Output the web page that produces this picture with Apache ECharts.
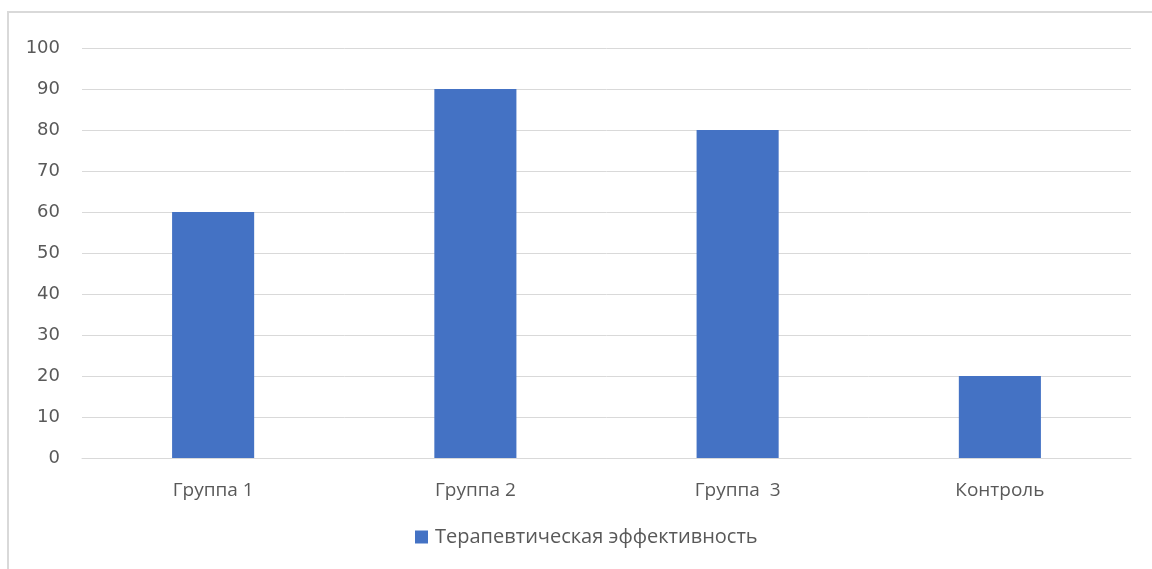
<!DOCTYPE html>
<html>
<head>
<meta charset="utf-8">
<script src="https://cdn.jsdelivr.net/npm/echarts@6/dist/echarts.min.js"></script>
<style>
  html, body { margin: 0; padding: 0; background: #fff; }
  #chart { width: 1152px; height: 569px; }
</style>
</head>
<body>
<div id="chart"></div>
<script>
// Терапевтическая эффективность по группам
const categories = ['Группа 1', 'Группа 2', 'Группа  3', 'Контроль'];
const efficacy = [60, 90, 80, 20];
const seriesName = 'Терапевтическая эффективность';
const yTicks = { min: 0, max: 100, interval: 10 };

const textColor = '#595959';
const fontFamily = 'Open Sans, Liberation Sans, sans-serif';
const numberFont = 'DejaVu Sans, sans-serif';

const chart = echarts.init(document.getElementById('chart'), null, { renderer: 'canvas' });
chart.setOption({
  animation: false,
  backgroundColor: '#fff',
  graphic: [{
    type: 'rect',
    shape: { x: 8, y: 12, width: 1200, height: 620 },
    style: { fill: 'none', stroke: '#d9d9d9', lineWidth: 2 },
    silent: true
  }],
  grid: { left: 82, right: 21, top: 48, bottom: 111, containLabel: false },
  legend: {
    top: 527,
    left: 415,
    padding: 0,
    itemWidth: 13,
    itemHeight: 13,
    icon: 'rect',
    textStyle: { color: textColor, fontSize: 20, fontFamily: fontFamily, padding: [0, 0, 0, 2] },
    data: [seriesName]
  },
  xAxis: {
    type: 'category',
    data: categories,
    axisLine: { show: true, lineStyle: { color: '#d9d9d9', width: 1 } },
    axisTick: { show: false },
    axisLabel: { color: textColor, fontSize: 19, fontFamily: fontFamily, margin: 23 }
  },
  yAxis: {
    type: 'value',
    min: yTicks.min,
    max: yTicks.max,
    interval: yTicks.interval,
    axisLine: { show: false },
    axisTick: { show: false },
    splitLine: { lineStyle: { color: '#d9d9d9', width: 1 } },
    axisLabel: { color: textColor, fontSize: 18, fontFamily: numberFont, margin: 22, padding: [7, 0, 0, 0] }
  },
  series: [{
    name: seriesName,
    type: 'bar',
    data: efficacy,
    barWidth: '31.3%',
    itemStyle: { color: '#4472C4' }
  }]
});
</script>
</body>
</html>
